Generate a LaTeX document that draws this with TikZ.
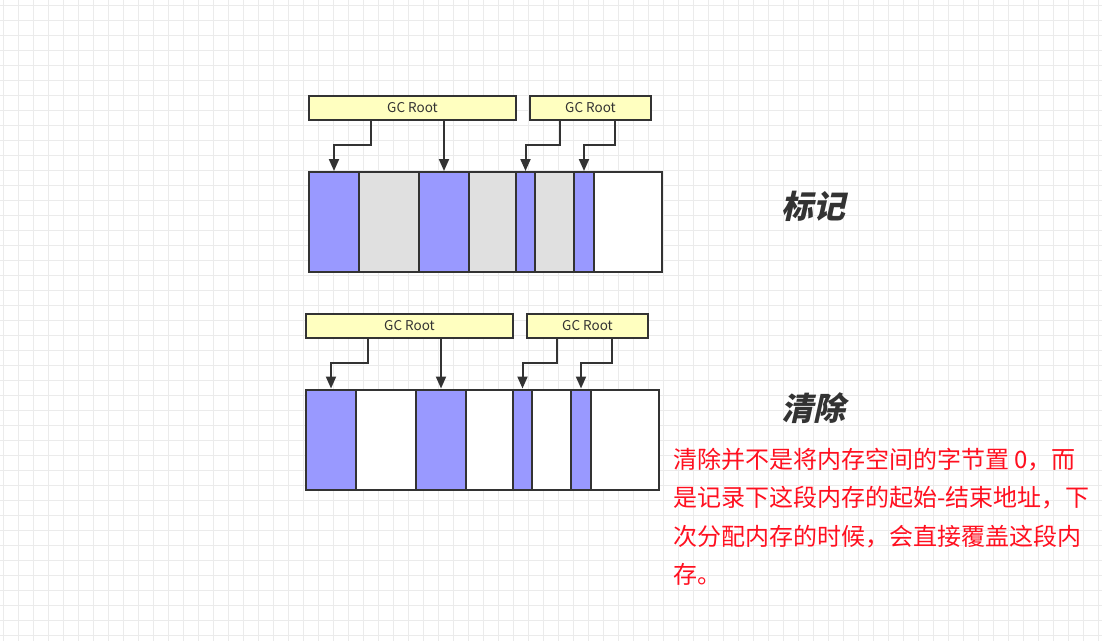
\documentclass[tikz,border=0pt]{standalone}
\usepackage{fontspec}
\setmainfont{Noto Sans CJK SC}
\newfontfamily\cjkbi[FakeSlant=0.22,BoldFeatures={FakeSlant=0.22}]{Noto Sans CJK SC}
\usetikzlibrary{arrows.meta,calc}
\definecolor{gridc}{HTML}{EBEBEB}
\definecolor{edgec}{HTML}{333333}
\definecolor{markc}{HTML}{9999FF}
\definecolor{grayc}{HTML}{E0E0E0}
\definecolor{rootc}{HTML}{FFFFC0}
\definecolor{notec}{HTML}{FF1020}
\tikzset{
  cellbox/.style={draw=edgec, line width=2pt, rectangle, inner sep=0pt, minimum height=100pt, anchor=north west},
  rootbox/.style={draw=edgec, fill=rootc, line width=2pt, rectangle, inner sep=0pt, minimum height=24pt, anchor=north west, font=\fontsize{13.5}{15}\selectfont, text=edgec},
  arr/.style={draw=edgec, line width=2pt, -{Triangle[width=10pt,length=12pt]}},
  title/.style={font=\cjkbi\bfseries\fontsize{32}{36}\selectfont, text=edgec},
  note/.style={font=\fontsize{24}{38}\selectfont, text=notec, anchor=base west, inner sep=0pt},
}
% #1 prefix, #2 x0, #3 y0 (top of root boxes), #4 colour of dead cells
\newcommand\memdiagram[4]{%
  \node[rootbox, minimum width=207pt] (#1ra) at (#2,#3) {GC Root};
  \node[rootbox, minimum width=121pt] (#1rb) at (#2+221,#3) {GC Root};
  \node[cellbox, fill=markc, minimum width=50pt] (#1c1) at (#2,#3+76) {};
  \node[cellbox, fill=#4, minimum width=60pt] (#1c2) at (#2+50,#3+76) {};
  \node[cellbox, fill=markc, minimum width=50pt] (#1c3) at (#2+110,#3+76) {};
  \node[cellbox, fill=#4, minimum width=47pt] (#1c4) at (#2+160,#3+76) {};
  \node[cellbox, fill=markc, minimum width=19pt] (#1c5) at (#2+207,#3+76) {};
  \node[cellbox, fill=#4, minimum width=39pt] (#1c6) at (#2+226,#3+76) {};
  \node[cellbox, fill=markc, minimum width=20pt] (#1c7) at (#2+265,#3+76) {};
  \node[cellbox, fill=white, minimum width=68pt] (#1c8) at (#2+285,#3+76) {};
  \coordinate (#1e) at (#2,#3+50);
  \coordinate (#1x1) at (#2+63,#3);
  \coordinate (#1x3) at (#2+252,#3);
  \coordinate (#1x4) at (#2+307,#3);
  \draw[arr] (#1ra.south -| #1x1) -- (#1x1 |- #1e) -| (#1c1.north);
  \draw[arr] (#1ra.south -| #1c3.north) -- (#1c3.north);
  \draw[arr] (#1rb.south -| #1x3) -- (#1x3 |- #1e) -| (#1c5.north);
  \draw[arr] (#1rb.south -| #1x4) -- (#1x4 |- #1e) -| (#1c7.north);
}
\begin{document}
\begin{tikzpicture}[x=1pt,y=-1pt]
\fill[white] (0,0) rectangle (1102,641);
\useasboundingbox (0,0) rectangle (1102,641);
\foreach \i in {0,...,73} { \draw[gridc, line width=1pt] (3+15*\i,0) -- (3+15*\i,641); }
\foreach \j in {0,...,42} { \draw[gridc, line width=1pt] (0,5+15*\j) -- (1102,5+15*\j); }
\memdiagram{a}{308}{95}{grayc}
\memdiagram{b}{305}{312.5}{white}
\node[title] (tmark) at (813,206) {标记};
\node[title] (tsweep) at (813,408) {清除};
\node[note] (n1) at (673,468) {清除并不是将内存空间的字节置 0，而};
\node[note] (n2) at (673,506.5) {是记录下这段内存的起始-结束地址，下};
\node[note] (n3) at (673,545) {次分配内存的时候，会直接覆盖这段内};
\node[note] (n4) at (673,583.5) {存。};
\end{tikzpicture}
\end{document}
